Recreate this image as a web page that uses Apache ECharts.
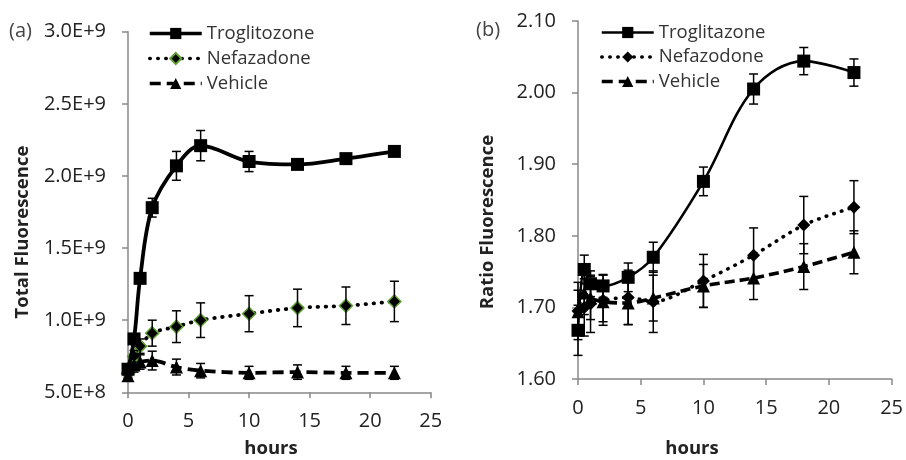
<!DOCTYPE html>
<html><head><meta charset="utf-8">
<script src="https://cdn.jsdelivr.net/npm/echarts@6/dist/echarts.min.js"></script>
<style>html,body{margin:0;padding:0;background:#fff}#c{width:906px;height:460px}</style>
</head><body><div id="c"></div>
<script>
// ---- data ----
const hours = [0, 0.5, 1, 2, 4, 6, 10, 14, 18, 22];
// panel (a) Total Fluorescence
const trogA    = [0.66e9, 0.87e9, 1.29e9, 1.78e9, 2.07e9, 2.21e9, 2.10e9, 2.08e9, 2.12e9, 2.17e9];
const trogAErr = [0.02e9, 0.03e9, 0.03e9, 0.065e9, 0.10e9, 0.105e9, 0.07e9, 0.02e9, 0.02e9, 0.02e9];
const nefA     = [0.63e9, 0.75e9, 0.82e9, 0.91e9, 0.955e9, 1.00e9, 1.045e9, 1.085e9, 1.10e9, 1.13e9];
const nefAErr  = [0.03e9, 0.04e9, 0.05e9, 0.09e9, 0.11e9, 0.12e9, 0.125e9, 0.13e9, 0.13e9, 0.14e9];
const vehA     = [0.615e9, 0.69e9, 0.71e9, 0.72e9, 0.675e9, 0.65e9, 0.635e9, 0.64e9, 0.635e9, 0.635e9];
const vehAErr  = [0.03e9, 0.05e9, 0.05e9, 0.065e9, 0.055e9, 0.05e9, 0.045e9, 0.05e9, 0.045e9, 0.045e9];
// panel (b) Ratio Fluorescence
const trogB    = [1.668, 1.753, 1.733, 1.730, 1.742, 1.770, 1.876, 2.005, 2.044, 2.028];
const trogBErr = [0.035, 0.02, 0.018, 0.016, 0.02, 0.021, 0.02, 0.021, 0.019, 0.019];
const nefB     = [1.695, 1.700, 1.705, 1.710, 1.714, 1.708, 1.737, 1.773, 1.815, 1.840];
const nefBErr  = [0.04, 0.04, 0.04, 0.035, 0.038, 0.043, 0.037, 0.038, 0.04, 0.037];
const vehB     = [1.694, 1.720, 1.713, 1.708, 1.706, 1.713, 1.730, 1.741, 1.757, 1.777];
const vehBErr  = [0.03, 0.03, 0.03, 0.028, 0.03, 0.032, 0.03, 0.03, 0.032, 0.03];
// tick labels
const yTicksA = ['5.0E+8', '1.0E+9', '1.5E+9', '2.0E+9', '2.5E+9', '3.0E+9'];
const yTicksB = ['1.60', '1.70', '1.80', '1.90', '2.00', '2.10'];
const xTicks  = ['0', '5', '10', '15', '20', '25'];
const namesA = ['Troglitozone', 'Nefazadone', 'Vehicle'];
const namesB = ['Troglitazone', 'Nefazodone', 'Vehicle'];

// ---- helpers ----
const FONT = '"Open Sans", sans-serif';
const FS = 20;
const LFS = 18.5;
const TFS = 18.5;
const AX = '#888';
function pts(v) { return hours.map((h, i) => [h, v[i]]); }
function errs(v, e) { return hours.map((h, i) => [h, v[i] - e[i], v[i] + e[i]]); }
function errSeries(idx, v, e) {
  return {
    type: 'custom', xAxisIndex: idx, yAxisIndex: idx, z: 5, silent: true,
    data: errs(v, e),
    renderItem: function (params, api) {
      const lo = api.coord([api.value(0), api.value(1)]);
      const hi = api.coord([api.value(0), api.value(2)]);
      const w = 4.5;
      const st = { stroke: '#000', lineWidth: 1.5 };
      return { type: 'group', children: [
        { type: 'line', shape: { x1: lo[0], y1: lo[1], x2: hi[0], y2: hi[1] }, style: st },
        { type: 'line', shape: { x1: lo[0] - w, y1: lo[1], x2: lo[0] + w, y2: lo[1] }, style: st },
        { type: 'line', shape: { x1: hi[0] - w, y1: hi[1], x2: hi[0] + w, y2: hi[1] }, style: st }
      ]};
    }
  };
}
function xAxis(idx) {
  return {
    type: 'value', gridIndex: idx, min: 0, max: 25, interval: 5,
    axisLine: { show: true, lineStyle: { color: AX, width: 1.5 } },
    axisTick: { show: true, length: 6, lineStyle: { color: AX, width: 1.5 } },
    splitLine: { show: false },
    axisLabel: { margin: idx === 0 ? 19 : 19, fontFamily: FONT, fontSize: FS, color: '#222',
      formatter: v => xTicks[Math.round(v / 5)] }
  };
}
function txt(text, x, y, opts) {
  return Object.assign({ type: 'text', x: x, y: y,
    style: Object.assign({ text: text, fontFamily: FONT, fontSize: FS, fill: '#222',
      textAlign: 'center', textVerticalAlign: 'middle' }, opts.style || {}) }, opts.el || {});
}
const option = {
  animation: false,
  backgroundColor: '#fff',
  grid: [
    { left: 128, top: 31.7, width: 302.7, height: 360.6 },
    { left: 578, top: 21, width: 316.3, height: 358 }
  ],
  xAxis: [xAxis(0), xAxis(1)],
  yAxis: [
    { type: 'value', gridIndex: 0, min: 5e8, max: 3e9, interval: 5e8,
      axisLine: { show: true, lineStyle: { color: AX, width: 1.5 } },
      axisTick: { show: true, length: 6, lineStyle: { color: AX, width: 1.5 } },
      splitLine: { show: false },
      axisLabel: { margin: 22, fontFamily: FONT, fontSize: FS, color: '#222',
        formatter: v => yTicksA[Math.round((v - 5e8) / 5e8)] } },
    { type: 'value', gridIndex: 1, min: 1.6, max: 2.1, interval: 0.1,
      axisLine: { show: true, lineStyle: { color: AX, width: 1.5 } },
      axisTick: { show: true, length: 6, lineStyle: { color: AX, width: 1.5 } },
      splitLine: { show: false },
      axisLabel: { margin: 22, fontFamily: FONT, fontSize: FS, color: '#222',
        formatter: v => yTicksB[Math.round((v - 1.6) / 0.1)] } }
  ],
  legend: [
    { orient: 'vertical', left: 143, top: 19, itemWidth: 52, itemHeight: 14, itemGap: 6,
      data: [
        { name: namesA[0], lineStyle: { width: 3.5 } },
        { name: namesA[1], lineStyle: { width: 3.5 } },
        { name: namesA[2], lineStyle: { width: 3.5 } }
      ],
      textStyle: { fontFamily: FONT, fontSize: LFS, color: '#333' } },
    { orient: 'vertical', left: 595, top: 18, itemWidth: 52, itemHeight: 14, itemGap: 5.5,
      data: [
        { name: namesB[0], lineStyle: { width: 2.5 } },
        { name: namesB[1], lineStyle: { width: 3.5 } },
        { name: namesB[2], lineStyle: { width: 3.5 } }
      ],
      textStyle: { fontFamily: FONT, fontSize: LFS, color: '#333' } }
  ],
  graphic: [
    txt('(a)', 9, 31, { style: { textAlign: 'left', fill: '#444' } }),
    txt('(b)', 476, 30, { style: { textAlign: 'left', fill: '#444' } }),
    txt('Total Fluorescence', 23, 232, { style: { fontWeight: 'bold', fontSize: TFS }, el: { rotation: Math.PI / 2 } }),
    txt('Ratio Fluorescence', 488, 222, { style: { fontWeight: 'bold', fontSize: TFS }, el: { rotation: Math.PI / 2 } }),
    txt('hours', 271, 449, { style: { fontWeight: 'bold', fontSize: TFS } }),
    txt('hours', 692, 449, { style: { fontWeight: 'bold', fontSize: TFS } })
  ],
  series: [
    { name: namesA[0], type: 'line', xAxisIndex: 0, yAxisIndex: 0, data: pts(trogA), smooth: 0.35, z: 4,
      symbol: 'rect', symbolSize: 13, itemStyle: { color: '#000' }, lineStyle: { color: '#000', width: 3.8 } },
    { name: namesA[1], type: 'line', xAxisIndex: 0, yAxisIndex: 0, data: pts(nefA), smooth: 0.3, z: 3,
      symbol: 'diamond', symbolSize: 13, itemStyle: { color: '#000', borderColor: '#5fa034', borderWidth: 1.5 },
      lineStyle: { color: '#000', width: 3.8, type: [0.5, 7.5], cap: 'round' } },
    { name: namesA[2], type: 'line', xAxisIndex: 0, yAxisIndex: 0, data: pts(vehA), smooth: 0.3, z: 3,
      symbol: 'triangle', symbolSize: 13, itemStyle: { color: '#000' },
      lineStyle: { color: '#000', width: 3.8, type: [11, 6] } },
    errSeries(0, trogA, trogAErr), errSeries(0, nefA, nefAErr), errSeries(0, vehA, vehAErr),
    { name: namesB[0], type: 'line', xAxisIndex: 1, yAxisIndex: 1, data: pts(trogB), smooth: 0.35, z: 4,
      symbol: 'rect', symbolSize: 13, itemStyle: { color: '#000' }, lineStyle: { color: '#000', width: 2.6 } },
    { name: namesB[1], type: 'line', xAxisIndex: 1, yAxisIndex: 1, data: pts(nefB), smooth: 0.3, z: 3,
      symbol: 'diamond', symbolSize: 13, itemStyle: { color: '#000' },
      lineStyle: { color: '#000', width: 3.6, type: [0.5, 7.5], cap: 'round' } },
    { name: 'Vehicle', type: 'line', xAxisIndex: 1, yAxisIndex: 1, data: pts(vehB), smooth: 0.3, z: 3,
      symbol: 'triangle', symbolSize: 13, itemStyle: { color: '#000' },
      lineStyle: { color: '#000', width: 3.6, type: [10, 5] } },
    errSeries(1, trogB, trogBErr), errSeries(1, nefB, nefBErr), errSeries(1, vehB, vehBErr)
  ]
};
const chart = echarts.init(document.getElementById('c'), null, { renderer: 'canvas' });
chart.setOption(option);
</script></body></html>
